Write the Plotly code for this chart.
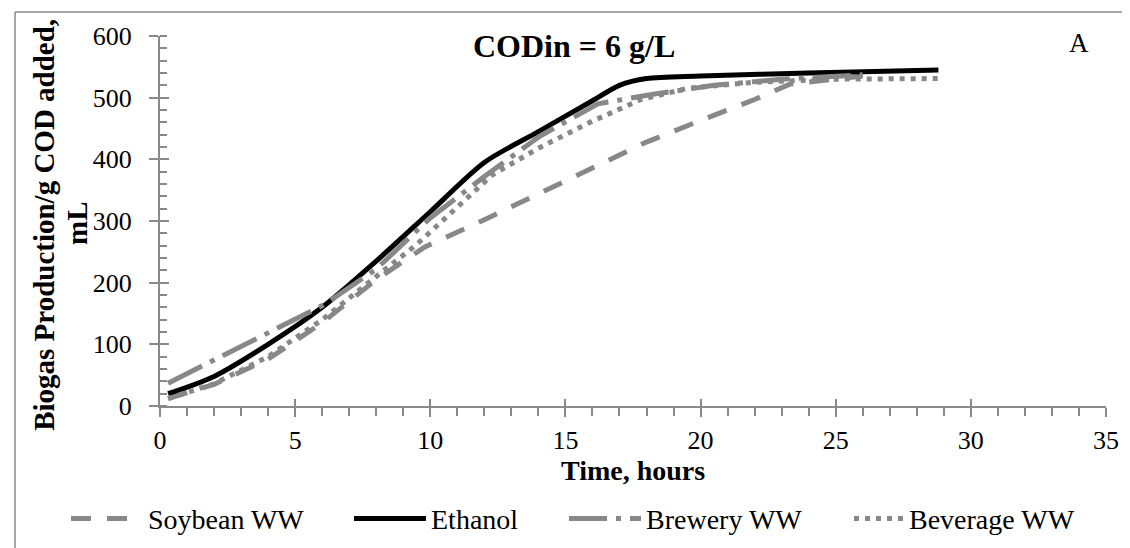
import plotly.graph_objects as go

# ---- data ----
eth_x = [0.3, 2, 4, 6, 8, 10, 12, 14, 16, 17, 18, 20, 24, 28.8]
eth_y = [20, 48, 100, 160, 235, 315, 395, 445, 495, 520, 531, 535, 540, 545]

soy_x = [0.3, 2, 4, 6, 8, 9.8, 12, 14, 16, 18, 20, 22, 23.3, 26]
soy_y = [12, 35, 76, 135, 205, 258, 302, 344, 388, 428, 463, 497, 522, 535]

brew_x = [0.3, 6.1, 8, 10, 12, 14, 16.2, 18.3, 20.5, 23, 26]
brew_y = [37, 165, 222, 305, 372, 436, 490, 506, 520, 530, 537]

bev_x = [0.3, 2, 4, 6, 8, 9.5, 12.3, 14, 16, 17.8, 19.5, 22, 25, 28.8]
bev_y = [12, 36, 80, 140, 210, 262, 375, 418, 462, 497, 515, 525, 530, 531]

series_names = ["Soybean WW", "Ethanol", "Brewery WW", "Beverage WW"]

x_range = [0, 35]
y_range = [0, 600]

GRAY = "#888888"
AX = "#898989"
FONT = "Liberation Serif"

# plot-area geometry in pixels (used only to convert pixel placements to paper units)
L, R, T, B = 152, 1098, 28, 412
PW, PH = R - L, B - T


def px(xp):
    return (xp - L) / PW


def py(yp):
    return (B - yp) / PH


fig = go.Figure()
fig.add_trace(go.Scatter(x=soy_x, y=soy_y, mode="lines", name=series_names[0], legend="legend",
                         line=dict(color=GRAY, width=5, dash="20px,16px")))
fig.add_trace(go.Scatter(x=eth_x, y=eth_y, mode="lines", name=series_names[1], legend="legend2",
                         line=dict(color="black", width=5, shape="spline", smoothing=0.8)))
fig.add_trace(go.Scatter(x=brew_x, y=brew_y, mode="lines", name=series_names[2], legend="legend3",
                         line=dict(color=GRAY, width=5, dash="38px,9px,5px,9px")))
fig.add_trace(go.Scatter(x=bev_x, y=bev_y, mode="lines", name=series_names[3], legend="legend4",
                         line=dict(color=GRAY, width=5, dash="5px,6px")))

# dummy trace on the overlay axes (second half of the crossing major ticks)
fig.add_trace(go.Scatter(x=[None], y=[None], xaxis="x2", yaxis="y2", showlegend=False))

leg_common = dict(orientation="h", xanchor="left", yanchor="middle", y=py(529),
                  font=dict(size=28, family=FONT, color="black"), bgcolor="rgba(0,0,0,0)",
                  borderwidth=0)

fig.update_layout(
    width=1130, height=548,
    paper_bgcolor="white", plot_bgcolor="white",
    margin=dict(l=L, r=1130 - R, t=T, b=548 - B),
    font=dict(family=FONT, size=26, color="black"),
    xaxis=dict(range=x_range, dtick=5, tick0=0, showgrid=False, zeroline=False,
               showline=True, linecolor=AX, linewidth=2,
               ticks="outside", ticklen=9, tickwidth=2, tickcolor=AX,
               minor=dict(dtick=1, ticks="outside", ticklen=8, tickwidth=2, tickcolor=AX, showgrid=False),
               tickfont=dict(size=26), ticklabelstandoff=1),
    yaxis=dict(range=y_range, dtick=100, tick0=0, showgrid=False, zeroline=False,
               showline=True, linecolor=AX, linewidth=2,
               ticks="outside", ticklen=9, tickwidth=2, tickcolor=AX,
               minor=dict(dtick=20, ticks="inside", ticklen=7, tickwidth=2, tickcolor=AX, showgrid=False),
               tickfont=dict(size=26), ticklabelstandoff=12),
    xaxis2=dict(range=x_range, overlaying="x", anchor="y", side="bottom", dtick=5, tick0=0,
                showgrid=False, zeroline=False, showline=False, showticklabels=False,
                ticks="inside", ticklen=7, tickwidth=2, tickcolor=AX),
    yaxis2=dict(range=y_range, overlaying="y", anchor="x", side="left", dtick=100, tick0=0,
                showgrid=False, zeroline=False, showline=False, showticklabels=False,
                ticks="inside", ticklen=9, tickwidth=2, tickcolor=AX),
    legend=dict(leg_common, x=px(58), itemwidth=72),
    legend2=dict(leg_common, x=px(341), itemwidth=72),
    legend3=dict(leg_common, x=px(556), itemwidth=72),
    legend4=dict(leg_common, x=px(841), itemwidth=50),
    showlegend=True,
)

# titles / labels
fig.add_annotation(text="<b>CODin = 6 g/L</b>", x=15.3, y=584, xref="x", yref="y",
                   showarrow=False, font=dict(size=32, family=FONT), xanchor="center", yanchor="middle")
fig.add_annotation(text="A", x=34.0, y=588, xref="x", yref="y",
                   showarrow=False, font=dict(size=27, family=FONT), xanchor="center", yanchor="middle")
fig.add_annotation(text="<b>Time, hours</b>", x=0.5, y=py(479), xref="paper", yref="paper",
                   showarrow=False, font=dict(size=28, family=FONT), xanchor="center", yanchor="middle")
fig.add_annotation(text="<b>Biogas Production/g COD added,</b>", x=px(36), y=py(224),
                   xref="paper", yref="paper", textangle=-90, showarrow=False,
                   font=dict(size=29, family=FONT), xanchor="center", yanchor="middle")
fig.add_annotation(text="<b>mL</b>", x=px(69), y=py(222),
                   xref="paper", yref="paper", textangle=-90, showarrow=False,
                   font=dict(size=29, family=FONT), xanchor="center", yanchor="middle")

# chart-area border (left and top edges visible in the reference)
fig.add_shape(type="line", xref="paper", yref="paper", x0=px(7), x1=px(7),
              y0=py(3), y1=py(560), line=dict(color=AX, width=1.5))
fig.add_shape(type="line", xref="paper", yref="paper", x0=px(7), x1=px(1140),
              y0=py(3), y1=py(3), line=dict(color=AX, width=1.5))

fig.write_html("out.html")
